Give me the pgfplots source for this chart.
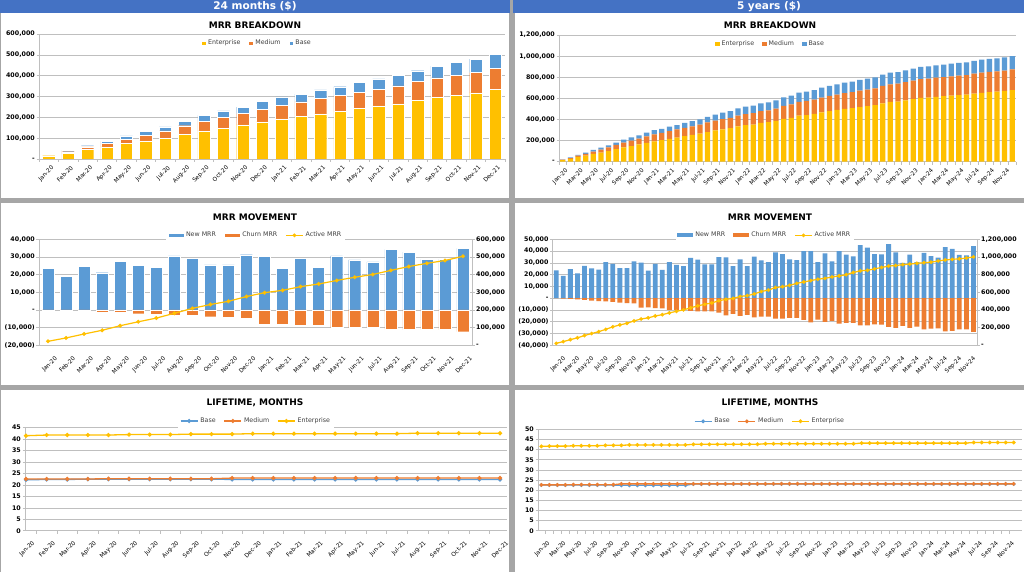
\documentclass[border=0pt]{standalone}
\usepackage{fontspec}
\setmainfont{DejaVu Sans}
\usepackage{pgfplots}
\usepackage{pgfplotstable}
\pgfplotsset{compat=1.18}

\definecolor{entc}{HTML}{FFC000}
\definecolor{medc}{HTML}{ED7D31}
\definecolor{basec}{HTML}{5B9BD5}
\definecolor{hdr}{HTML}{4472C4}
\definecolor{bg}{HTML}{A6A6A6}
\definecolor{gridc}{HTML}{BFBFBF}
\definecolor{txt}{HTML}{404040}

% values in thousands of $ ; lifetimes in months
\pgfplotstableread{
m ent med base total new churn ltb ltm lte
1 16 3 3.5 22.5 23.6 0 22.2 22.6 41.5
2 25.7 9.3 6.7 41.7 18.9 -0.4 22.4 22.6 41.8
3 45 13 6 64 24.7 -0.6 22.4 22.6 41.8
4 58 17 10 85 21.1 -1.1 22.5 22.6 41.8
5 74 21 16 111 27.4 -1.5 22.5 22.7 41.8
6 87 28 18 133 25.3 -2.1 22.5 22.7 42.0
7 99 36 19 154 24.2 -2.5 22.5 22.7 42.0
8 119 41 21 181 30.6 -2.8 22.5 22.7 42.0
9 135 46 28 209 29.2 -3.2 22.5 22.7 42.2
10 148 51 32 231 25.5 -3.8 22.5 22.7 42.2
11 164 54 31 249 25.5 -4.2 22.4 23.0 42.2
12 178 61 37 276 31.3 -4.5 22.4 23.0 42.4
13 193 65 40 298 30.2 -8.1 22.4 23.0 42.4
14 204 70 37 311 23.4 -7.9 22.4 23.0 42.4
15 217 73 42 332 29.2 -8.5 22.4 23.0 42.4
16 228 77 42 347 24.0 -8.7 22.4 23.0 42.4
17 242 79 46 367 30.6 -10.0 22.4 23.0 42.4
18 255 80 50 385 28.3 -10.0 22.4 23.0 42.4
19 265 86 50 401 27.2 -10.0 22.4 23.0 42.4
20 281 91 52 424 34.3 -10.8 22.4 23.0 42.6
21 297 93 56 446 32.8 -11.1 22.4 23.0 42.6
22 305 98 61 464 28.7 -11.1 22.4 23.0 42.6
23 318 97 65 480 28.7 -11.1 22.4 23.0 42.6
24 334 102 68 504 34.9 -12.3 22.4 23.0 42.6
}\mA

\pgfplotstableread{
m ent med base total new churn ltb ltm lte
1 16 3 3.5 22.5 23.6 0 22.5 22.6 41.6
2 25.7 9.3 6.7 41.7 18.9 -0.4 22.5 22.6 41.7
3 45 13 6 64 24.7 -0.6 22.5 22.6 41.7
4 58 17 10 85 21.1 -1.1 22.5 22.6 41.7
5 74 21 16 111 27.4 -1.5 22.5 22.7 41.9
6 87 28 18 133 25.3 -2.1 22.5 22.7 41.9
7 99 36 19 154 24.2 -2.5 22.5 22.7 41.9
8 119 41 21 181 30.6 -2.8 22.5 22.7 41.9
9 135 46 28 209 29.2 -3.2 22.5 22.7 42.1
10 148 51 32 231 25.5 -3.8 22.5 22.7 42.1
11 164 54 31 249 25.5 -4.2 22.4 23.1 42.1
12 178 61 37 276 31.3 -4.5 22.4 23.1 42.3
13 193 65 40 298 30.2 -8.1 22.4 23.1 42.3
14 204 70 37 311 23.4 -7.9 22.4 23.1 42.3
15 217 73 42 332 29.2 -8.5 22.4 23.1 42.3
16 228 77 42 347 24.0 -8.7 22.4 23.1 42.3
17 242 79 46 367 30.6 -10.0 22.4 23.1 42.3
18 255 80 50 385 28.3 -10.0 22.4 23.1 42.3
19 265 86 50 401 27.2 -10.0 22.4 23.1 42.3
20 281 91 52 424 34.3 -10.8 23.0 23.1 42.6
21 297 93 56 446 32.8 -11.1 23.0 23.1 42.6
22 305 98 61 464 28.7 -11.1 23.0 23.1 42.6
23 318 97 65 480 28.7 -11.1 23.0 23.1 42.6
24 334 102 68 504 34.9 -12.3 23.0 23.1 42.6
25 346 105 70 521 34.7 -14.6 23.0 23.1 42.6
26 352 107 71 530 27.3 -13.4 23.0 23.1 42.6
27 367 112 74 553 33.0 -15.0 23.0 23.1 42.6
28 374 113 75 562 27.3 -14.2 23.0 23.1 42.6
29 386 117 78 581 35.3 -16.2 23.0 23.1 42.9
30 405 123 81 609 32.2 -15.6 23.0 23.1 42.9
31 416 126 83 625 30.7 -15.6 23.0 23.1 42.9
32 436 131 87 654 39.0 -17.4 23.0 23.1 42.9
33 442 133 88 663 37.5 -17.4 23.0 23.1 42.9
34 453 136 90 679 33.0 -16.8 23.0 23.1 42.9
35 468 140 93 701 32.4 -16.8 23.0 23.1 42.9
36 479 144 94 717 40.0 -18.5 23.0 23.1 42.9
37 490 146 97 733 40.0 -20.5 23.0 23.1 42.9
38 500 150 98 748 30.7 -18.2 23.0 23.1 42.9
39 507 152 99 758 38.0 -20.2 23.0 23.1 42.9
40 518 155 101 774 31.3 -19.3 23.0 23.1 42.9
41 527 156 103 786 40.0 -21.6 23.0 23.1 43.2
42 536 159 104 799 37.0 -21.0 23.0 23.1 43.2
43 553 164 107 824 35.5 -21.0 23.0 23.1 43.2
44 566 167 110 843 45.0 -23.0 23.0 23.1 43.2
45 570 169 110 849 43.0 -23.0 23.0 23.1 43.2
46 582 171 112 865 37.5 -22.2 23.0 23.1 43.2
47 593 174 114 881 37.2 -22.4 23.0 23.1 43.2
48 604 177 116 897 46.0 -24.4 23.0 23.1 43.2
49 608 179 116 903 39.0 -25.3 23.0 23.1 43.2
50 615 181 117 913 29.9 -23.6 23.0 23.1 43.2
51 620 181 118 919 37.0 -25.3 23.0 23.1 43.2
52 626 183 119 928 30.7 -24.1 23.0 23.1 43.2
53 631 185 119 935 38.4 -26.4 23.0 23.1 43.2
54 636 185 120 941 35.8 -25.8 23.0 23.1 43.2
55 645 188 121 954 34.4 -25.6 23.0 23.1 43.5
56 653 190 123 966 43.4 -28.1 23.0 23.1 43.5
57 659 191 123 973 41.8 -27.8 23.0 23.1 43.5
58 663 192 124 979 36.7 -26.4 23.0 23.1 43.5
59 670 193 125 988 36.4 -26.4 23.0 23.1 43.5
60 679 196 126 1001 44.3 -28.7 23.0 23.1 43.5
}\mB

\pgfplotsset{
  dash/.style={
    scale only axis, anchor=south west,
    axis x line*=bottom, axis y line*=left,
    axis line style={draw=gridc, line width=0.6pt},
    ymajorgrids, grid style={draw=gridc, line width=0.6pt},
    tick align=outside, major tick length=2.5pt, minor tick length=3pt,
    tick style={draw=gridc, line width=0.6pt},
    major x tick style={draw=none},
    yticklabel style={font=\bfseries\fontsize{6.3}{7}\selectfont, inner sep=1.5pt},
    xticklabel style={font=\fontsize{5.8}{7}\selectfont, rotate=45, anchor=north east, inner sep=1pt},
    legend style={draw=none, fill=white, font=\fontsize{6.3}{7}\selectfont, text=txt,
      legend columns=-1, inner sep=1.5pt,
      /tikz/every even column/.append style={column sep=6pt}},
  },
  raxis/.style={
    scale only axis, anchor=south west,
    axis x line=none, axis y line*=right,
    axis line style={draw=gridc, line width=0.6pt},
    tick align=outside, major tick length=2.5pt,
    tick style={draw=gridc, line width=0.6pt},
    yticklabel style={font=\bfseries\fontsize{6.3}{7}\selectfont, inner sep=1.5pt},
  },
  sq/.style={legend image code/.code={\fill[##1] (0pt,-2.3pt) rectangle (4.6pt,2.3pt);}},
  wide/.style={legend image code/.code={\fill[##1] (0pt,-2pt) rectangle (16pt,2pt);}},
  labA/.style={xtick={1,...,24}, xticklabels={Jan-20,Feb-20,Mar-20,Apr-20,May-20,Jun-20,Jul-20,Aug-20,Sep-20,Oct-20,Nov-20,Dec-20,Jan-21,Feb-21,Mar-21,Apr-21,May-21,Jun-21,Jul-21,Aug-21,Sep-21,Oct-21,Nov-21,Dec-21}},
  labB/.style={xtick={1,3,...,59}, xticklabels={Jan-20,Mar-20,May-20,Jul-20,Sep-20,Nov-20,Jan-21,Mar-21,May-21,Jul-21,Sep-21,Nov-21,Jan-22,Mar-22,May-22,Jul-22,Sep-22,Nov-22,Jan-23,Mar-23,May-23,Jul-23,Sep-23,Nov-23,Jan-24,Mar-24,May-24,Jul-24,Sep-24,Nov-24}},
  bars/.style={draw=white, line width=0.3pt},
  thin/.style={draw=none},
  ltline/.style={line width=1.3pt, mark=*, mark size=1.4pt},
}

\begin{document}
\begin{tikzpicture}
\useasboundingbox (0,0) rectangle (1024pt,-572pt);
\fill[bg] (0,0) rectangle (1024pt,-572pt);
\fill[white] (1pt,-13pt) rectangle (509pt,-198pt);
\fill[white] (515pt,-13pt) rectangle (1024pt,-198pt);
\fill[white] (1pt,-203pt) rectangle (509pt,-385pt);
\fill[white] (515pt,-203pt) rectangle (1024pt,-385pt);
\fill[white] (1pt,-390pt) rectangle (509pt,-572pt);
\fill[white] (515pt,-390pt) rectangle (1024pt,-572pt);
\fill[hdr] (0,0) rectangle (510pt,-13pt);
\fill[hdr] (513pt,0) rectangle (1024pt,-13pt);
\node[white, font=\bfseries\fontsize{10.5}{12}\selectfont] at (255pt,-6.5pt) {24 months (\$)};
\node[white, font=\bfseries\fontsize{10.5}{12}\selectfont] at (769pt,-6.5pt) {5 years (\$)};
\foreach \cx in {255,770}{
  \node[font=\bfseries\fontsize{9}{10}\selectfont] at (\cx pt,-25pt) {MRR BREAKDOWN};
  \node[font=\bfseries\fontsize{9}{10}\selectfont] at (\cx pt,-217.7pt) {MRR MOVEMENT};
  \node[font=\bfseries\fontsize{9}{10}\selectfont] at (\cx pt,-403pt) {LIFETIME, MONTHS};
}

% ---- MRR breakdown, 24 months
\begin{axis}[dash, at={(39pt,-159pt)}, width=466pt, height=125pt,
  ybar stacked, bar width=12.3pt, sq,
  xmin=0.5, xmax=24.5, ymin=0, ymax=600, labA,
  xticklabel style={yshift=-3pt},
  minor xtick={0.5,1.5,...,24.5},
  ytick={0,100,...,600},
  yticklabels={-,{100,000},{200,000},{300,000},{400,000},{500,000},{600,000}},
  legend style={at={(0.5,0.928)}, anchor=center, xshift=-15pt}]
\addplot[fill=entc, bars] table[x=m,y=ent]{\mA};
\addplot[fill=medc, bars] table[x=m,y=med]{\mA};
\addplot[fill=basec, bars] table[x=m,y=base]{\mA};
\legend{Enterprise,Medium,Base}
\end{axis}

% ---- MRR breakdown, 5 years
\begin{axis}[dash, at={(559pt,-161.7pt)}, width=457pt, height=126.7pt,
  ybar stacked, bar width=5.3pt, sq,
  xmin=0.5, xmax=60.5, ymin=0, ymax=1200, labB,
  xticklabel style={yshift=-3pt},
  minor xtick={0.5,1.5,...,60.5},
  ytick={0,200,...,1200},
  yticklabels={-,{200,000},{400,000},{600,000},{800,000},{1,000,000},{1,200,000}},
  legend style={at={(0.5,0.928)}, anchor=center, xshift=-17pt}]
\addplot[fill=entc, thin] table[x=m,y=ent]{\mB};
\addplot[fill=medc, thin] table[x=m,y=med]{\mB};
\addplot[fill=basec, thin] table[x=m,y=base]{\mB};
\legend{Enterprise,Medium,Base}
\end{axis}

% ---- MRR movement, 24 months
\begin{axis}[dash, at={(39pt,-345.3pt)}, width=433pt, height=106pt,
  xmin=0.5, xmax=24.5, ymin=-20, ymax=40, labA,
  xticklabel style={yshift=-9pt},
  ytick={-20,-10,...,40},
  yticklabels={{(20,000)},{(10,000)},-,{10,000},{20,000},{30,000},{40,000}},
  legend style={at={(0.5,1)}, anchor=center, yshift=4pt}]
\addplot[ybar, bar width=12pt, bar shift=0pt, fill=basec, bars, wide] table[x=m,y=new]{\mA};
\addplot[ybar, bar width=12pt, bar shift=0pt, fill=medc, bars, wide] table[x=m,y=churn]{\mA};
\addlegendimage{line legend, color=entc, line width=1.2pt, mark=*, mark size=1.2pt}
\legend{New MRR,Churn MRR,Active MRR}
\end{axis}
\begin{axis}[raxis, at={(39pt,-345.3pt)}, width=433pt, height=106pt,
  xmin=0.5, xmax=24.5, ymin=0, ymax=600,
  ytick={0,100,...,600},
  yticklabels={-,{100,000},{200,000},{300,000},{400,000},{500,000},{600,000}}]
\addplot[color=entc, line width=1.2pt, mark=*, mark size=1.3pt] table[x=m,y=total]{\mA};
\end{axis}

% ---- MRR movement, 5 years
\begin{axis}[dash, at={(552.7pt,-345.3pt)}, width=424.3pt, height=106pt,
  xmin=0.5, xmax=60.5, ymin=-40, ymax=50, labB,
  xticklabel style={yshift=-9pt},
  ytick={-40,-30,...,50},
  yticklabels={{(40,000)},{(30,000)},{(20,000)},{(10,000)},-,{10,000},{20,000},{30,000},{40,000},{50,000}},
  legend style={at={(0.5,1)}, anchor=center, yshift=4pt}]
\addplot[ybar, bar width=4.8pt, bar shift=0pt, fill=basec, thin, wide] table[x=m,y=new]{\mB};
\addplot[ybar, bar width=4.8pt, bar shift=0pt, fill=medc, thin, wide] table[x=m,y=churn]{\mB};
\addlegendimage{line legend, color=entc, line width=1.2pt, mark=*, mark size=1.2pt}
\legend{New MRR,Churn MRR,Active MRR}
\end{axis}
\begin{axis}[raxis, at={(552.7pt,-345.3pt)}, width=424.3pt, height=106pt,
  xmin=0.5, xmax=60.5, ymin=0, ymax=1200,
  ytick={0,200,...,1200},
  yticklabels={-,{200,000},{400,000},{600,000},{800,000},{1,000,000},{1,200,000}}]
\addplot[color=entc, line width=1.2pt, mark=*, mark size=1.2pt] table[x=m,y=total]{\mB};
\end{axis}

% ---- Lifetime, 24 months
\begin{axis}[dash, at={(25pt,-530.7pt)}, width=482pt, height=103pt,
  xmin=0.95, xmax=24.34, ymin=0, ymax=45, labA,
  xticklabel style={yshift=-8pt},
  minor xtick={1.5,2.5,...,23.5},
  ytick={0,5,...,45}, yticklabels={0,5,10,15,20,25,30,35,40,45},
  legend style={at={(0.5,1)}, anchor=center, yshift=6.7pt, xshift=-10pt}]
\addplot[color=basec, ltline] table[x=m,y=ltb]{\mA};
\addplot[color=medc, ltline] table[x=m,y=ltm]{\mA};
\addplot[color=entc, ltline] table[x=m,y=lte]{\mA};
\legend{Base,Medium,Enterprise}
\end{axis}

% ---- Lifetime, 5 years
\begin{axis}[dash, at={(538pt,-530.7pt)}, width=484pt, height=101.4pt,
  xmin=0.59, xmax=61.04, ymin=0, ymax=50, labB,
  xticklabel style={yshift=-8pt},
  minor xtick={1.5,2.5,...,59.5},
  ytick={0,5,...,50}, yticklabels={0,5,10,15,20,25,30,35,40,45,50},
  legend style={at={(0.5,1)}, anchor=center, yshift=8pt, xshift=-10pt}]
\addplot[color=basec, ltline, mark size=1.2pt] table[x=m,y=ltb]{\mB};
\addplot[color=medc, ltline, mark size=1.2pt] table[x=m,y=ltm]{\mB};
\addplot[color=entc, ltline, mark size=1.2pt] table[x=m,y=lte]{\mB};
\legend{Base,Medium,Enterprise}
\end{axis}
\end{tikzpicture}
\end{document}
